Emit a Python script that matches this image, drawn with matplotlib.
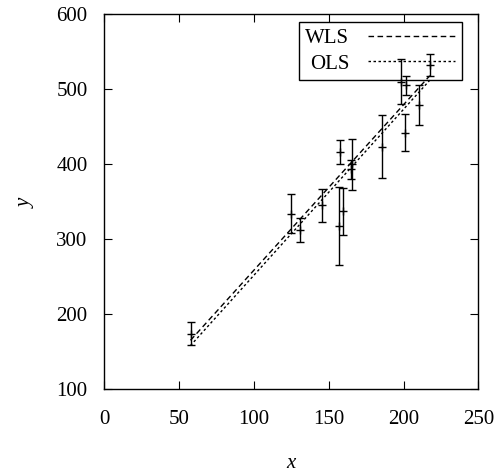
import matplotlib
matplotlib.use("Agg")
import matplotlib.pyplot as plt

plt.rcParams['font.family'] = ['Liberation Serif', 'DejaVu Serif']
plt.rcParams['mathtext.fontset'] = 'custom'
plt.rcParams['mathtext.it'] = 'Liberation Serif:italic'

# measurements with their error bars
x_vals = [57.6, 124.5, 130.5, 145.6, 156.7, 159.4, 157.4, 165.0, 165.5,
          185.6, 198.0, 201.6, 200.9, 210.0, 217.5]
y_vals = [174, 334, 312, 345, 317, 337, 416, 393, 400,
          423, 510, 505, 442, 479, 532]
y_err = [15, 26, 16, 22, 52, 31, 16, 13, 34,
         42, 30, 13, 25, 27, 15]

# fitted lines (end points)
wls_x = [57.6, 217.5]
wls_y = [165, 518]
ols_x = [57.6, 217.5]
ols_y = [158, 512]

x_ticks = [0, 50, 100, 150, 200, 250]
y_ticks = [100, 200, 300, 400, 500, 600]

fig = plt.figure(figsize=(5.02, 4.75), dpi=100)
ax = fig.add_axes([0.2078, 0.181, 0.7452, 0.789])

ax.errorbar(x_vals, y_vals, yerr=y_err, fmt='+', color='black',
            ecolor='black', elinewidth=1.0, capsize=3, capthick=1.0,
            markersize=6, markeredgewidth=1.0)
ax.plot(wls_x, wls_y, color='black', lw=1.0, dashes=(4, 2.5), label='WLS')
ax.plot(ols_x, ols_y, color='black', lw=1.0, dashes=(1.8, 1.8), label='OLS')

ax.set_xlim(0, 250)
ax.set_ylim(100, 600)
ax.set_xticks(x_ticks)
ax.set_yticks(y_ticks)
ax.tick_params(direction='in', length=6, width=0.8, top=True, right=True,
               labelsize=15)
ax.tick_params(axis='x', pad=15)
ax.tick_params(axis='y', pad=12)
for s in ax.spines.values():
    s.set_linewidth(1.0)

ax.set_xlabel('$x$', fontsize=15, labelpad=18)
ax.set_ylabel('$y$', fontsize=15, labelpad=15)

leg = ax.legend(loc='upper right', bbox_to_anchor=(0.955, 0.979),
                borderaxespad=0, markerfirst=False, fontsize=15,
                handlelength=4.2, handletextpad=0.9, fancybox=False,
                facecolor='none', edgecolor='black', framealpha=1,
                borderpad=0.3, labelspacing=0.3)
leg.get_frame().set_linewidth(1.0)

fig.savefig('out.png', dpi=100)
